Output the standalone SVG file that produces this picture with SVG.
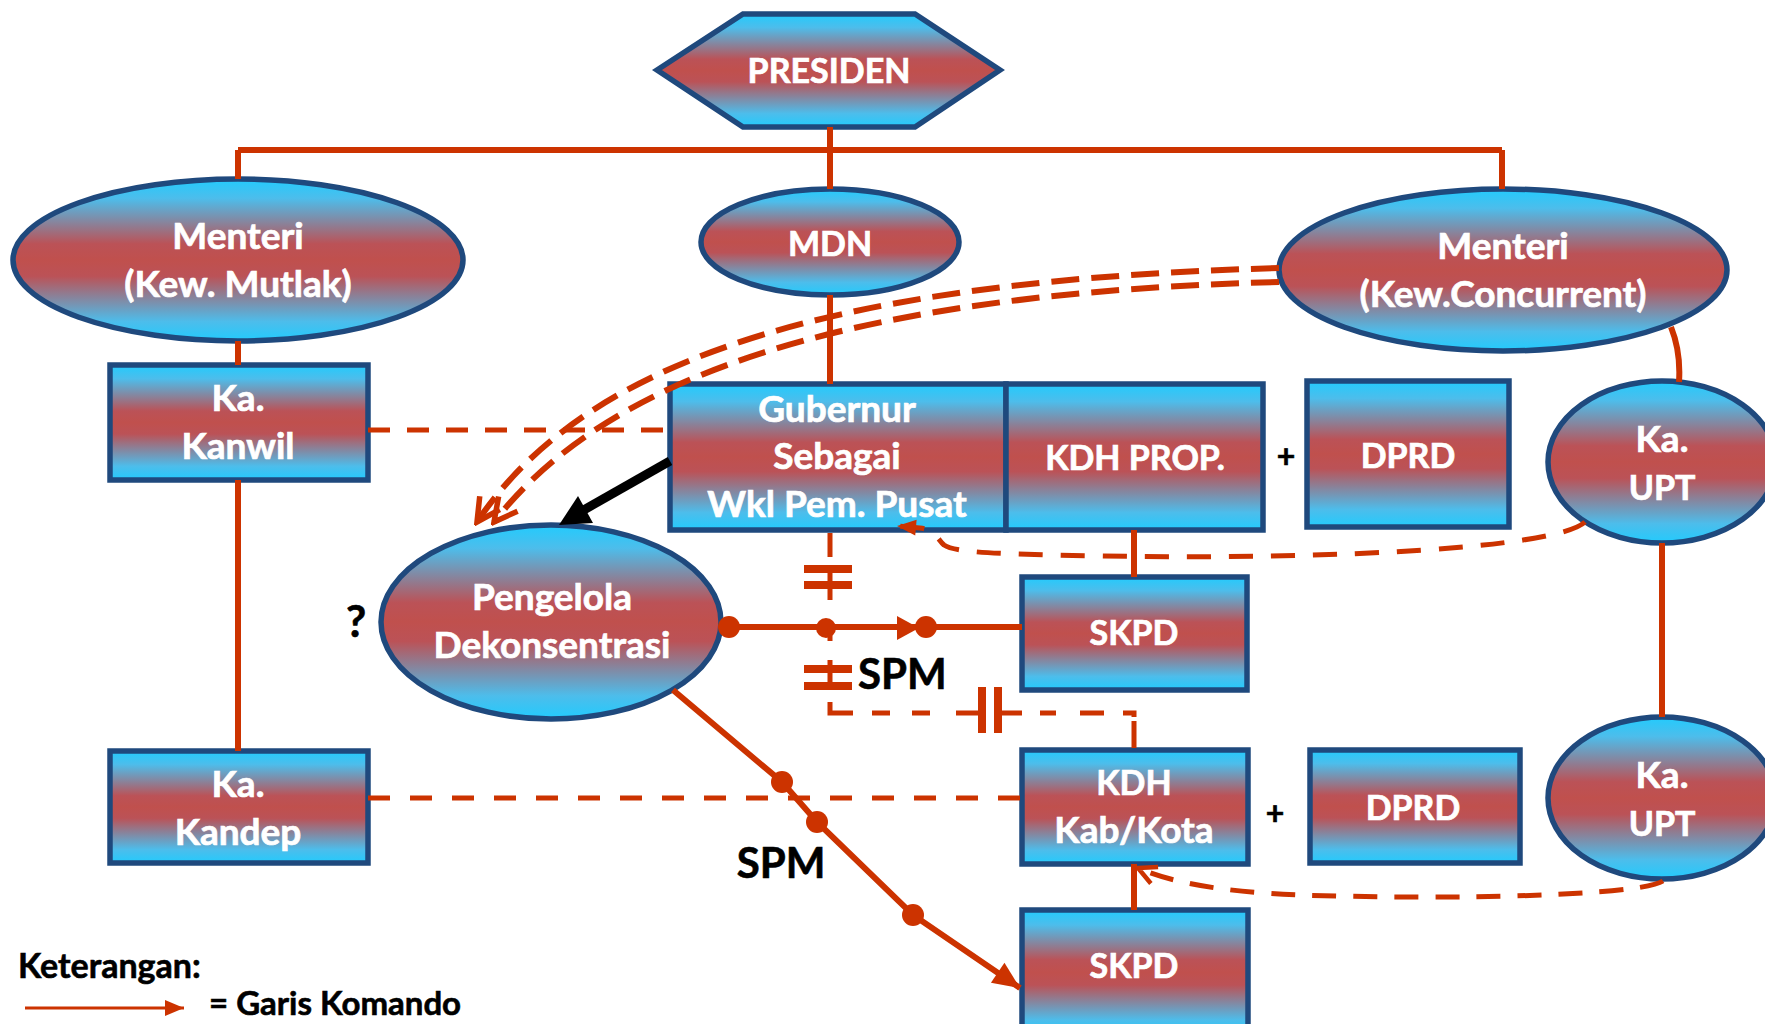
<svg xmlns="http://www.w3.org/2000/svg" width="1765" height="1024" viewBox="0 0 1765 1024">
<defs>
  <linearGradient id="g" x1="0" y1="0" x2="0" y2="1">
    <stop offset="0" stop-color="#22CBFD"/>
    <stop offset="0.12" stop-color="#4DBDEB"/>
    <stop offset="0.4" stop-color="#BB5257"/>
    <stop offset="0.5" stop-color="#C0504D"/>
    <stop offset="0.6" stop-color="#BB5257"/>
    <stop offset="0.88" stop-color="#4DBDEB"/>
    <stop offset="1" stop-color="#22CBFD"/>
  </linearGradient>
  <marker id="chev" markerUnits="userSpaceOnUse" viewBox="-28 -15 32 30" refX="0" refY="0" markerWidth="32" markerHeight="30" orient="auto">
    <path d="M-23,-12 L0,0 L-23,12" fill="none" stroke="#CC3300" stroke-width="5.5"/>
  </marker>
  <marker id="chevS" markerUnits="userSpaceOnUse" viewBox="-22 -12 26 24" refX="0" refY="0" markerWidth="26" markerHeight="24" orient="auto">
    <path d="M-18,-9 L0,0 L-18,9" fill="none" stroke="#CC3300" stroke-width="4.5"/>
  </marker>
  <marker id="tri" markerUnits="userSpaceOnUse" viewBox="-28 -13 30 26" refX="0" refY="0" markerWidth="30" markerHeight="26" orient="auto">
    <path d="M-27,-12 L0,0 L-27,12 Z" fill="#CC3300"/>
  </marker>
  <marker id="triS" markerUnits="userSpaceOnUse" viewBox="-20 -9 22 18" refX="0" refY="0" markerWidth="22" markerHeight="18" orient="auto">
    <path d="M-19,-8 L0,0 L-19,8 Z" fill="#CC3300"/>
  </marker>
</defs>
<style>
  .n { fill: url(#g); stroke: #1F497D; stroke-width: 5.5; }
  .t { font-family: Lato, "Liberation Sans", sans-serif; font-weight: bold; font-size: 37px; fill: #FFFFFF; stroke: #FFFFFF; stroke-width: 0.7; text-anchor: middle; }
  .u { font-size: 34px; }
  .k { font-family: Lato, "Liberation Sans", sans-serif; font-weight: bold; fill: #000000; stroke: #000000; stroke-width: 0.6; }
  .c { stroke: #CC3300; stroke-width: 6; fill: none; }
  .d { stroke: #CC3300; stroke-width: 5; fill: none; stroke-dasharray: 22 17; }
  .dd { stroke: #CC3300; stroke-width: 6; fill: none; stroke-dasharray: 28 12; }
  .bar { stroke: #CC3300; stroke-width: 8; fill: none; }
  .dot { fill: #CC3300; }
</style>

<g id="presiden">
  <polygon class="n" points="657,70 743,14 915,14 1000,70 915,127 743,127"/>
  <text class="t u" x="829" y="83">PRESIDEN</text>
</g>
<g id="menteri-mutlak">
  <ellipse class="n" cx="238" cy="260" rx="225" ry="81"/>
  <text class="t" x="238" y="249">Menteri</text>
  <text class="t" x="238" y="297">(Kew. Mutlak)</text>
</g>
<g id="mdn">
  <ellipse class="n" cx="830" cy="242" rx="129" ry="53"/>
  <text class="t u" x="830" y="256">MDN</text>
</g>
<g id="menteri-concurrent">
  <ellipse class="n" cx="1503" cy="270" rx="224" ry="81"/>
  <text class="t" x="1503" y="259">Menteri</text>
  <text class="t" x="1503" y="307">(Kew.Concurrent)</text>
</g>
<g id="ka-kanwil">
  <rect class="n" x="110" y="365" width="258" height="115"/>
  <text class="t" x="238" y="411">Ka.</text>
  <text class="t" x="238" y="459">Kanwil</text>
</g>
<g id="gubernur">
  <rect class="n" x="670" y="384" width="336" height="146"/>
  <text class="t" x="837" y="422">Gubernur</text>
  <text class="t" x="837" y="469">Sebagai</text>
  <text class="t" x="837" y="517">Wkl Pem. Pusat</text>
</g>
<g id="kdh-prop">
  <rect class="n" x="1006" y="384" width="257" height="146"/>
  <text class="t u" x="1135" y="470">KDH PROP.</text>
</g>
<g id="dprd-prop">
  <rect class="n" x="1307" y="381" width="202" height="146"/>
  <text class="t u" x="1408" y="468">DPRD</text>
</g>
<g id="ka-upt-1">
  <ellipse class="n" cx="1662" cy="462" rx="114" ry="81"/>
  <text class="t" x="1662" y="452">Ka.</text>
  <text class="t u" x="1662" y="500">UPT</text>
</g>
<g id="pengelola">
  <ellipse class="n" cx="551" cy="622" rx="170" ry="97"/>
  <text class="t" x="552" y="610">Pengelola</text>
  <text class="t" x="552" y="658">Dekonsentrasi</text>
</g>
<g id="skpd-prop">
  <rect class="n" x="1022" y="577" width="225" height="113"/>
  <text class="t u" x="1134" y="645">SKPD</text>
</g>
<g id="ka-kandep">
  <rect class="n" x="110" y="751" width="258" height="112"/>
  <text class="t" x="238" y="797">Ka.</text>
  <text class="t" x="238" y="845">Kandep</text>
</g>
<g id="kdh-kab">
  <rect class="n" x="1022" y="750" width="226" height="114"/>
  <text class="t u" x="1134" y="795">KDH</text>
  <text class="t" x="1134" y="843">Kab/Kota</text>
</g>
<g id="dprd-kab">
  <rect class="n" x="1310" y="750" width="210" height="113"/>
  <text class="t u" x="1413" y="820">DPRD</text>
</g>
<g id="ka-upt-2">
  <ellipse class="n" cx="1662" cy="798" rx="114" ry="81"/>
  <text class="t" x="1662" y="788">Ka.</text>
  <text class="t u" x="1662" y="836">UPT</text>
</g>
<g id="skpd-kab">
  <rect class="n" x="1022" y="910" width="226" height="125"/>
  <text class="t u" x="1134" y="978">SKPD</text>
</g>

<g id="connectors">
  <path class="c" d="M830,127 V150 M238,150 H1502 M238,150 V179 M830,150 V189 M1502,150 V189"/>
  <path class="c" d="M830,295 V384"/>
  <path class="c" d="M238,341 V365 M238,480 V751"/>
  <path class="c" d="M1134,530 V577 M1134,864 V910"/>
  <path class="c" d="M1671,327 Q1681,352 1679,382 M1662,543 V717"/>
  <path class="d" d="M368,430 H670"/>
  <path class="d" d="M368,798 H1022" style="stroke-dasharray:22 20"/>
  <path class="dd" d="M1279,268 C850,280 590,352 477,522" marker-end="url(#chev)"/>
  <path class="dd" d="M1279,282 C862,293 612,370 494,522" marker-end="url(#chev)"/>
  <path d="M670,461 L582,511" stroke="#000" stroke-width="9" fill="none"/>
  <polygon points="559,525 578,496 593,523" fill="#000"/>
  <path class="d" d="M1585,522 C1558,547 1350,560 1100,556 C1000,554 956,553 944,545 C938,540 936,530 920,528 L897,526" style="stroke-dasharray:24 18" marker-end="url(#triS)"/>
  <path class="d" d="M1663,881 C1640,896 1450,900 1300,895 C1220,892 1170,882 1138,868" style="stroke-dasharray:24 17" marker-end="url(#chevS)"/>
  <path class="c" d="M721,627 H1022"/>
  <circle class="dot" cx="729" cy="627" r="11"/>
  <circle class="dot" cx="826" cy="628" r="10"/>
  <polygon class="dot" points="897,616 919,628 897,640"/>
  <circle class="dot" cx="926" cy="627" r="11"/>
  <path class="c" style="stroke-width:5" d="M830,533 V557 M830,569 V600 M830,628 V641 M830,660 V690 M830,702 V713 H853 M872,713 H890 M912,713 H930 M956,713 H982 M998,713 H1022 M1040,713 H1056 M1080,713 H1104 M1123,713 H1134 V717 M1134,721 V748"/>
  <path class="bar" d="M804,569 H852 M804,585 H852 M804,669 H852 M804,686 H852 M982,687 V733 M998,687 V733"/>
  <polyline class="c" points="673,690 782,782 817,822 913,915 1020,988" marker-end="url(#tri)"/>
  <circle class="dot" cx="782" cy="782" r="11"/>
  <circle class="dot" cx="817" cy="822" r="11"/>
  <circle class="dot" cx="913" cy="915" r="11"/>
  <path d="M25,1008 H184" stroke="#CC3300" stroke-width="3" fill="none" marker-end="url(#triS)"/>
</g>

<g id="labels">
  <text class="k" x="1286" y="468" font-size="32" text-anchor="middle">+</text>
  <text class="k" x="1275" y="825" font-size="32" text-anchor="middle">+</text>
  <text class="k" x="356" y="637" font-size="44" text-anchor="middle">?</text>
  <text class="k" x="858" y="689" font-size="42">SPM</text>
  <text class="k" x="781" y="878" font-size="42" text-anchor="middle">SPM</text>
  <text class="k" x="18" y="978" font-size="34">Keterangan:</text>
  <text class="k" x="209" y="1015" font-size="33">= Garis Komando</text>
</g>
</svg>
